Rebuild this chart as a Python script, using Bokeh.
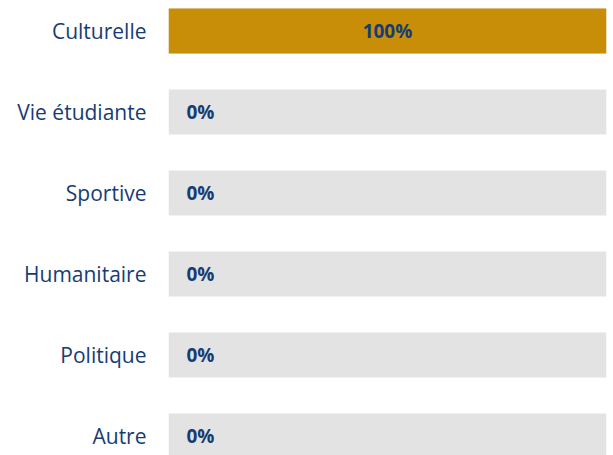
from bokeh.plotting import figure
from bokeh.models import Range1d, FixedTicker, ColumnDataSource
from bokeh.core.properties import value
from bokeh.embed import file_html
from bokeh.resources import INLINE

categories = ["Culturelle", "Vie étudiante", "Sportive", "Humanitaire", "Politique", "Autre"]
values = [100, 0, 0, 0, 0, 0]

NAVY = "#173C74"
GOLD = "#C88E07"
GRAY = "#E3E3E3"

pos = list(range(len(categories)))
labels = [f"{v}%" for v in values]
lab_x = [v / 2 if v > 0 else 0 for v in values]
lab_align = ["center" if v > 0 else "left" for v in values]
lab_off = [0 if v > 0 else 18 for v in values]

src = ColumnDataSource(dict(y=pos, v=values, full=[100] * len(values),
                            lab=labels, lx=lab_x, al=lab_align, off=lab_off))

p = figure(width=613, height=455, output_backend="svg", toolbar_location=None,
           x_range=Range1d(0, 100), y_range=Range1d(5.24, -0.377),
           min_border_left=168, min_border_right=7, min_border_top=0, min_border_bottom=0)

p.hbar(y="y", left=0, right="full", height=0.555, fill_color=GRAY, line_color=None, source=src)
p.hbar(y="y", left=0, right="v", height=0.555, fill_color=GOLD, line_color=None, source=src)
p.text(x="lx", y="y", text="lab", text_align="al", x_offset="off", text_baseline="middle",
       text_color=NAVY, text_font=value("Open Sans"), text_font_style="bold",
       text_font_size="19px", source=src)

p.xaxis.visible = False
p.yaxis.ticker = FixedTicker(ticks=pos)
p.yaxis.major_label_overrides = {i: c for i, c in zip(pos, categories)}
p.yaxis.axis_line_color = None
p.yaxis.major_tick_line_color = None
p.yaxis.minor_tick_line_color = None
p.yaxis.major_label_standoff = 16
p.yaxis.major_label_text_font = "Open Sans"
p.yaxis.major_label_text_font_size = "21px"
p.yaxis.major_label_text_color = NAVY
p.xgrid.visible = False
p.ygrid.visible = False
p.outline_line_color = None

open("out.html", "w").write(file_html(p, INLINE))
